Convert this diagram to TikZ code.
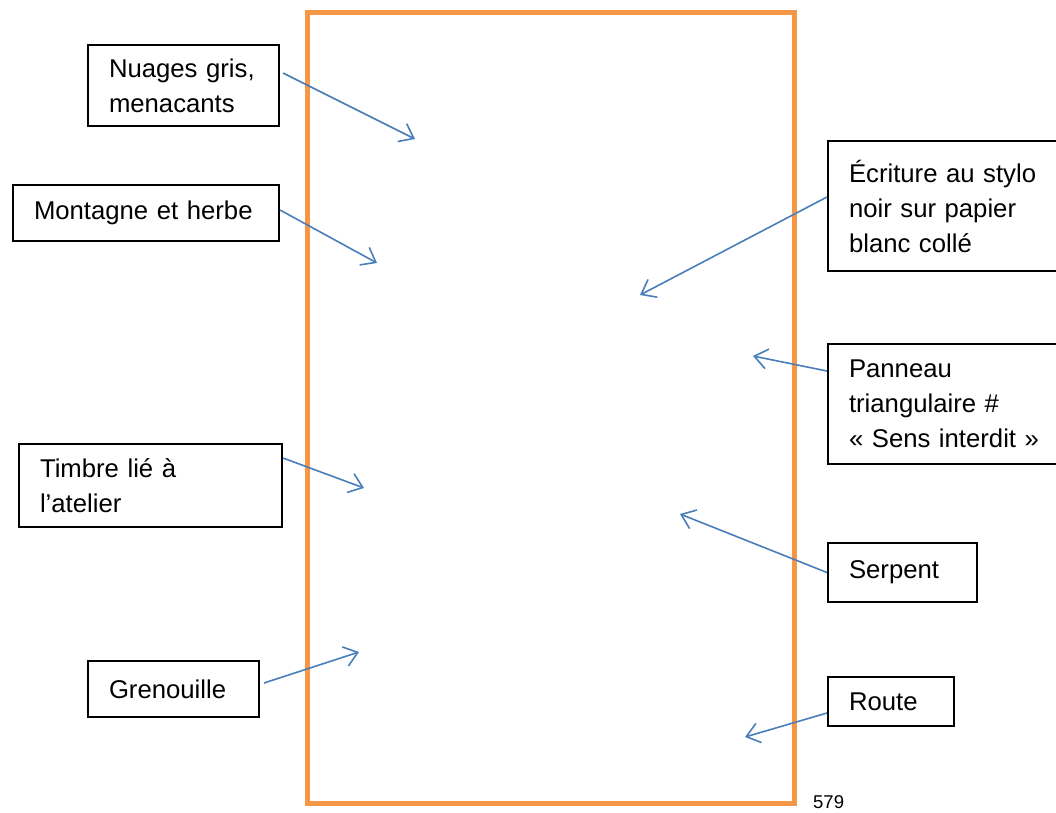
\documentclass[tikz,border=0pt]{standalone}
\usepackage{fontspec}
\setmainfont{Liberation Sans}
\usetikzlibrary{arrows.meta}
\definecolor{cadreorange}{HTML}{F79646}
\definecolor{flecheblue}{HTML}{4A7EBB}

\begin{document}
\begin{tikzpicture}[x=1pt,y=-1pt,
		legende/.style={draw=black,line width=2pt,anchor=north west,align=left,inner xsep=21pt,inner ysep=4pt,font=\fontsize{25.7}{35}\selectfont},
		fleche/.style={draw=flecheblue,line width=1.6pt,-{Straight Barb[length=13pt,width=20pt]}}]
				\useasboundingbox (0,0) rectangle (1056,812);
				\draw[cadreorange,line width=5pt] (307.5,12) rectangle (794.5,803.5);

				\node[legende,text width=149pt,minimum height=81pt] (nuages) at (87,44) {Nuages~gris,\\menacants};
				\node[legende,text width=224pt,minimum height=56pt] (montagne) at (12,184) {Montagne~et~herbe};
				\node[legende,text width=198pt,minimum height=130pt] (ecriture) at (827,140) {Écriture~au~stylo\\noir~sur~papier\\blanc~collé};
				\node[legende,text width=198pt,minimum height=120pt] (panneau) at (827,343) {Panneau\\triangulaire~\#\\«~Sens~interdit~»};
				\node[legende,text width=221pt,minimum height=83pt] (timbre) at (18,443) {Timbre~lié~à\\l’atelier};
				\node[legende,text width=107pt,minimum height=59pt] (serpent) at (827,542) {Serpent};
				\node[legende,text width=129pt,minimum height=56pt] (grenouille) at (87,660) {Grenouille};
				\node[legende,text width=84pt,minimum height=49pt] (route) at (827,676) {Route};
				\node[anchor=base west,inner sep=0pt,font=\fontsize{18.5}{22}\selectfont] (folio) at (813,808) {579};

				\coordinate (nuagesP) at (415,139);
				\coordinate (montagneP) at (377,263);
				\coordinate (ecritureP) at (640,295);
				\coordinate (panneauP) at (753,356);
				\coordinate (timbreP) at (364,488);
				\coordinate (serpentP) at (680,514);
				\coordinate (grenouilleP) at (359,652);
				\coordinate (routeP) at (745,737);

				\path
				([yshift=12.5pt,xshift=3pt]nuages.east) edge[fleche] (nuagesP)
				([yshift=3pt]montagne.east) edge[fleche] (montagneP)
				([yshift=9pt]ecriture.west) edge[fleche] (ecritureP)
				([yshift=33pt]panneau.west) edge[fleche] (panneauP)
				([yshift=27.5pt]timbre.east) edge[fleche] (timbreP)
				(serpent.west) edge[fleche] (serpentP)
				([yshift=6pt,xshift=4pt]grenouille.east) edge[fleche] (grenouilleP)
				([yshift=-11.5pt]route.west) edge[fleche] (routeP);
			\end{tikzpicture}
\end{document}
